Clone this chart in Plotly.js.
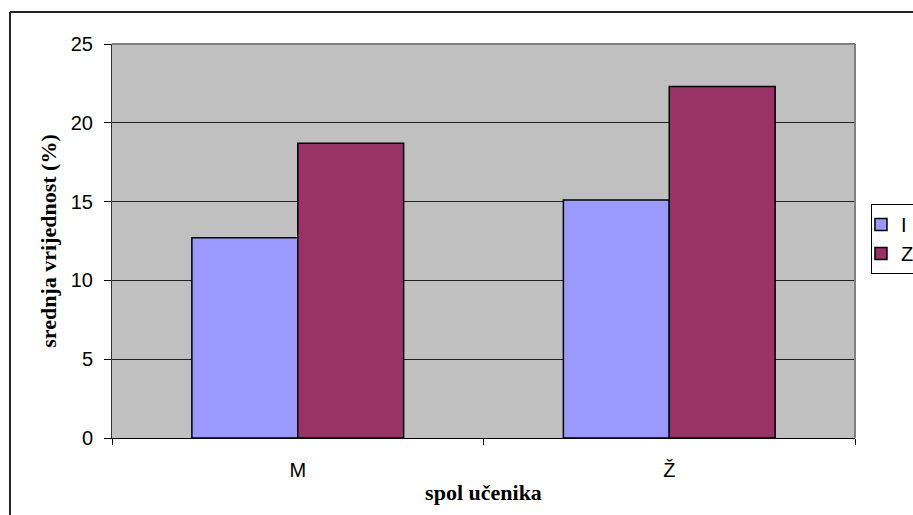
<!DOCTYPE html>
<html>
<head>
<meta charset="utf-8">
<script src="https://cdn.plot.ly/plotly-3.0.1.min.js"></script>
<style>
html,body{margin:0;padding:0;background:#fff;}
#chart{width:913px;height:515px;}
</style>
</head>
<body>
<div id="chart"></div>
<script>
const categories = ["M", "Ž"];
const seriesNames = ["I", "Z"];
const valuesI = [12.7, 15.1];
const valuesZ = [18.7, 22.3];
const yTicks = [0, 5, 10, 15, 20, 25];

const traces = [
  {type: "bar", name: seriesNames[0], x: categories, y: valuesI,
   marker: {color: "#9999FF", line: {color: "#000000", width: 1.5}}},
  {type: "bar", name: seriesNames[1], x: categories, y: valuesZ,
   marker: {color: "#993366", line: {color: "#000000", width: 1.5}}}
];

const layout = {
  width: 913, height: 515,
  margin: {l: 112, r: 58, t: 44, b: 77, autoexpand: false},
  paper_bgcolor: "#ffffff",
  plot_bgcolor: "#C0C0C0",
  barmode: "group",
  bargap: 0.43,
  bargroupgap: 0,
  showlegend: true,
  font: {family: "Liberation Sans, Arial, sans-serif", color: "#000000", size: 20},
  xaxis: {
    type: "category",
    tickson: "boundaries",
    ticks: "outside", ticklen: 6, tickcolor: "#000000",
    showline: true, linecolor: "#000000", linewidth: 1,
    mirror: false,
    automargin: false,
    tickfont: {size: 20, family: "Liberation Sans, Arial, sans-serif"},
    ticklabelstandoff: 14,
    title: {text: "spol učenika", standoff: 4,
            font: {family: "Liberation Serif, Times New Roman, serif", size: 22, weight: "bold"}}
  },
  yaxis: {
    range: [0, 25],
    tickvals: yTicks,
    ticks: "outside", ticklen: 7, tickcolor: "#000000",
    showline: true, linecolor: "#333333", linewidth: 1,
    showgrid: true, gridcolor: "#222222", gridwidth: 1,
    zeroline: false,
    automargin: false,
    tickfont: {size: 20, family: "Liberation Sans, Arial, sans-serif"},
    ticklabelstandoff: 7,
    title: {text: "srednja vrijednost (%)", standoff: 8,
            font: {family: "Liberation Serif, Times New Roman, serif", size: 22, weight: "bold"}}
  },
  legend: {
    x: 1.0215, y: 0.505, xanchor: "left", yanchor: "middle",
    bgcolor: "#ffffff", bordercolor: "#000000", borderwidth: 1,
    font: {size: 20, family: "Liberation Sans, Arial, sans-serif"},
    itemwidth: 30, tracegroupgap: 0, indentation: -11
  },
  shapes: [
    {type: "line", xref: "paper", yref: "paper", x0: 1, x1: 1, y0: 0, y1: 1,
     line: {color: "#808080", width: 2}},
    {type: "line", xref: "paper", yref: "paper", x0: 0, x1: 1, y0: 1, y1: 1,
     line: {color: "#808080", width: 2}},
    {type: "line", xref: "paper", yref: "paper", x0: -0.1373, x1: -0.1373, y0: -0.25, y1: 1.0812,
     line: {color: "#222222", width: 2}},
    {type: "line", xref: "paper", yref: "paper", x0: -0.1373, x1: 1.2, y0: 1.0812, y1: 1.0812,
     line: {color: "#222222", width: 2}}
  ]
};

Plotly.newPlot("chart", traces, layout, {displayModeBar: false, staticPlot: true});
</script>
</body>
</html>
